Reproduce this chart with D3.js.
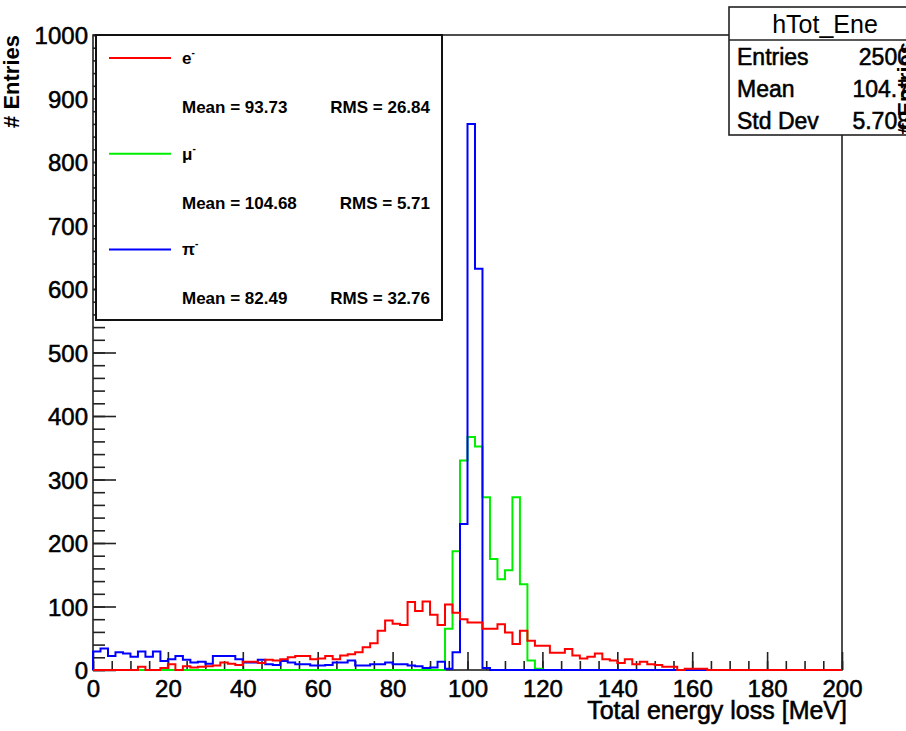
<!DOCTYPE html>
<html><head><meta charset="utf-8">
<script src="https://cdn.jsdelivr.net/npm/d3@7"></script>
<style>
body{margin:0;background:#fff;overflow:hidden}
text{font-family:"Liberation Sans",Arial,Helvetica,sans-serif;fill:#000}
.heavy{stroke:#000;stroke-width:0.55px}
</style>
</head><body><svg id="c" width="906" height="731"></svg>
<script>
// ---- data ----
const binWidth = 2;
const xDomain = [0, 200];
const yDomain = [0, 1000];
const xMajorTicks = [0, 20, 40, 60, 80, 100, 120, 140, 160, 180, 200];
const xMinorTicks = d3.range(0, 201, 5);
const yMajorTicks = [0, 100, 200, 300, 400, 500, 600, 700, 800, 900, 1000];
const yMinorTicks = d3.range(0, 1001, 20);

// e- (red)
const eCounts = [
  0,0,0,0,0,0,5,0,0,3,
  9,0,6,4,5,6,7,12,10,8,
  13,13,11,16,15,17,20,22,22,17,
  18,22,17,23,25,28,36,42,62,78,
  73,71,107,93,108,87,71,103,90,80,
  75,75,65,65,72,59,41,62,46,38,
  38,27,27,33,23,18,21,26,17,15,
  11,17,9,13,9,8,5,5,0,2,
  2,2,0,0,0,0,0,0,0,0,
  0,0,0,0,0,0,0,0,0,0
];
// mu- (green)
const muCounts = [
  0,0,0,0,0,0,0,0,0,0,
  0,0,0,0,0,0,0,0,0,0,
  0,0,0,0,0,0,0,0,0,0,
  0,0,0,0,0,0,0,0,0,0,
  0,0,0,0,0,0,0,65,187,330,
  367,352,272,175,143,157,272,135,15,2,
  0,0,0,0,0,0,0,0,0,0,
  0,0,0,0,0,0,0,0,0,0,
  0,0,0,0,0,0,0,0,0,0,
  0,0,0,0,0,0,0,0,0,0
];
// pi- (blue)
const piCounts = [
  29,34,22,28,26,21,29,21,29,14,
  17,22,16,12,13,10,22,22,22,17,
  12,12,16,9,8,14,12,9,9,7,
  7,8,12,12,15,7,7,9,9,12,
  9,9,7,6,3,4,13,2,28,230,
  860,632,3,0,0,0,0,0,0,0,
  0,0,0,0,0,0,0,0,0,0,
  0,0,0,0,0,0,0,0,0,0,
  0,0,0,0,0,0,0,0,0,0,
  0,0,0,0,0,0,0,0,0,0
];
const seriesNames = ["e", "\u03bc", "\u03c0"];
const seriesMeans = ["93.73", "104.68", "82.49"];
const seriesRMS = ["26.84", "5.71", "32.76"];
const statsTitle = "hTot_Ene";
const statsLabels = ["Entries", "Mean", "Std Dev"];
const statsValues = ["2500", "104.7", "5.708"];
const xTitle = "Total energy loss [MeV]";
const yTitle = "# Entries";

// ---- styles / layout ----
const colors = ["#ff0000", "#00ee00", "#0000ff"];
const L = 93, R = 842, T = 35, B = 670;
const svg = d3.select("#c");
const x = d3.scaleLinear().domain(xDomain).range([L, R]);
const y = d3.scaleLinear().domain(yDomain).range([B, T]);

// axes
const gx = svg.append("g").attr("transform", `translate(0,${B})`);
gx.call(d3.axisBottom(x).tickValues(xMinorTicks).tickSize(-9).tickFormat(""));
gx.selectAll(".domain").remove();
const gx2 = svg.append("g").attr("transform", `translate(0,${B})`);
gx2.call(d3.axisBottom(x).tickValues(xMajorTicks).tickSize(-18).tickPadding(10).tickFormat(d3.format("d")));
gx2.selectAll(".domain").remove();
gx2.selectAll("text").attr("font-size", 24).attr("font-family", "Liberation Sans, Arial, sans-serif").attr("class", "heavy");

const gy = svg.append("g").attr("transform", `translate(${L},0)`);
gy.call(d3.axisLeft(y).tickValues(yMinorTicks).tickSize(-12).tickFormat(""));
gy.selectAll(".domain").remove();
const gy2 = svg.append("g").attr("transform", `translate(${L},0)`);
gy2.call(d3.axisLeft(y).tickValues(yMajorTicks).tickSize(-23).tickPadding(5).tickFormat(d3.format("d")));
gy2.selectAll(".domain").remove();
gy2.selectAll("text").attr("font-size", 24).attr("font-family", "Liberation Sans, Arial, sans-serif")
  .attr("dy", "0.36em").attr("class", "heavy");
svg.selectAll(".tick line").attr("stroke", "#222").attr("stroke-width", 1.6);

// frame
svg.append("rect").attr("x", L).attr("y", T).attr("width", R - L).attr("height", B - T)
  .attr("fill", "none").attr("stroke", "#222").attr("stroke-width", 1.6);

// histograms
const line = d3.line().x(d => x(d[0])).y(d => y(d[1])).curve(d3.curveStepAfter);
function pts(counts) {
  const p = [[0, 0]];
  counts.forEach((c, i) => p.push([i * binWidth, c]));
  p.push([counts.length * binWidth, counts[counts.length - 1]]);
  p.push([counts.length * binWidth, 0]);
  return p;
}
const drawOrder = [1, 2, 0];
const allCounts = [eCounts, muCounts, piCounts];
drawOrder.forEach(i => {
  svg.append("path").attr("d", line(pts(allCounts[i])))
    .attr("fill", "none").attr("stroke", colors[i]).attr("stroke-width", 2);
});

// axis titles
svg.append("text").attr("x", 847).attr("y", 719).attr("text-anchor", "end")
  .attr("font-size", 25).attr("class", "heavy").text(xTitle);
svg.append("text").attr("transform", "translate(19,35) rotate(-90)").attr("text-anchor", "end")
  .attr("font-size", 22).attr("font-weight", "bold").text(yTitle);

// legend
const lg = svg.append("g");
lg.append("rect").attr("x", 96).attr("y", 35).attr("width", 346).attr("height", 285)
  .attr("fill", "#fff").attr("stroke", "#111").attr("stroke-width", 2);
seriesNames.forEach((n, i) => {
  const ly = 58 + i * 95.7;
  lg.append("line").attr("x1", 109).attr("x2", 171).attr("y1", ly).attr("y2", ly)
    .attr("stroke", colors[i]).attr("stroke-width", 2);
  const t = lg.append("text").attr("x", 182).attr("y", ly + 6).attr("font-size", 17).attr("font-weight", "bold");
  t.append("tspan").text(n);
  t.append("tspan").attr("font-size", 10).attr("dy", -8).text("-");
  lg.append("text").attr("x", 182).attr("y", ly + 55).attr("font-size", 17).attr("font-weight", "bold")
    .text("Mean = " + seriesMeans[i]);
  lg.append("text").attr("x", 430).attr("y", ly + 55).attr("font-size", 17).attr("font-weight", "bold")
    .attr("text-anchor", "end").text("RMS = " + seriesRMS[i]);
});

// stats box
const sb = svg.append("g");
sb.append("rect").attr("x", 729).attr("y", 7).attr("width", 220).attr("height", 128)
  .attr("fill", "#fff").attr("stroke", "#222").attr("stroke-width", 1.6);
sb.append("line").attr("x1", 729).attr("x2", 906).attr("y1", 40).attr("y2", 40)
  .attr("stroke", "#222").attr("stroke-width", 1.6);
sb.append("text").attr("x", 825).attr("y", 33).attr("text-anchor", "middle").attr("font-size", 25).text(statsTitle);
statsLabels.forEach((s, i) => {
  sb.append("text").attr("x", 737).attr("y", 65 + i * 32).attr("font-size", 23).attr("class", "heavy").text(s);
  sb.append("text").attr("x", 910).attr("y", 65 + i * 32).attr("font-size", 23).attr("class", "heavy")
    .attr("text-anchor", "end").text(statsValues[i]);
});
svg.append("text").attr("transform", "translate(913,42) rotate(-90)").attr("text-anchor", "end")
  .attr("font-size", 22).attr("font-weight", "bold").text(yTitle);
</script>
</body></html>
